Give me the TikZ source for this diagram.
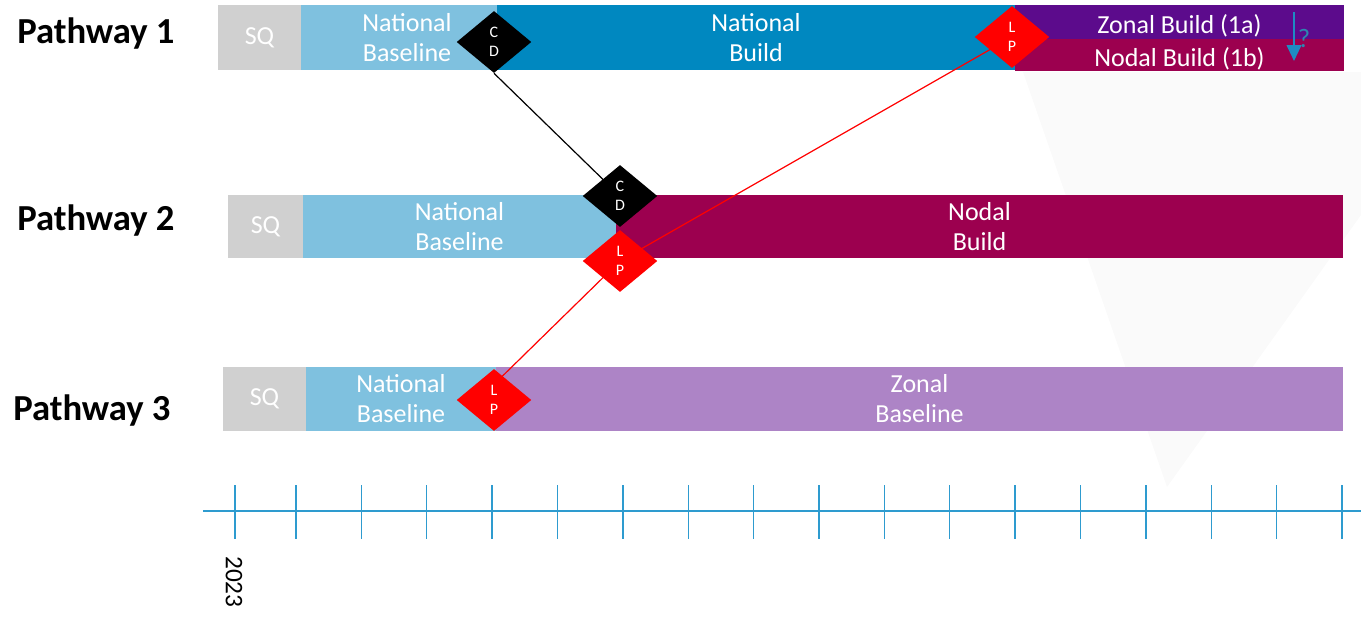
\documentclass[tikz,border=0pt]{standalone}
\usepackage{fontspec}
\setmainfont{Carlito}
\usetikzlibrary{shapes.geometric,arrows.meta,calc}

\definecolor{sqgrey}{HTML}{D0D0D0}
\definecolor{natbase}{HTML}{7FC1DF}
\definecolor{natbuild}{HTML}{0088C0}
\definecolor{zonbuild}{HTML}{5C0B8C}
\definecolor{nodalred}{HTML}{9C004F}
\definecolor{zonbase}{HTML}{AD84C6}
\definecolor{axisblue}{HTML}{2E9BCF}
\definecolor{qblue}{HTML}{1E8CC3}
\definecolor{qmark}{HTML}{2D86B0}
\definecolor{haze}{HTML}{FAFAFA}

\pgfdeclarelayer{backdrop}
\pgfdeclarelayer{bars}
\pgfdeclarelayer{links}
\pgfsetlayers{backdrop,bars,links,main}

% a filled bar between x1..x2 and y1..y2 (pixel units)
\newcommand\barnode[7]{%
  \node[barbox, fill=#6,
        minimum width={(#3-#2)*0.75pt}, minimum height={(#5-#4)*0.75pt}]
        (#1) at ({(#2+#3)/2},{(#4+#5)/2}) {#7};}
% lower a one-line label a little without changing its box
\newcommand\lowered[1]{\raisebox{-2.5pt}[\height][\depth]{#1}}

\tikzset{
  barbox/.style={rectangle, draw=none, inner sep=0pt, text=white,
                 align=center, font=\fontsize{19.5}{22.5}\selectfont},
  bartext/.style={inner sep=0pt, text=white, align=center,
                  font=\fontsize{19.5}{22.5}\selectfont},
  gate/.style={diamond, draw=none, inner sep=0pt, text=white, align=center,
               minimum width=56pt, minimum height=46.5pt,
               font=\fontsize{12}{14}\selectfont},
  cdgate/.style={gate, fill=black},
  lpgate/.style={gate, fill=red},
  pathlabel/.style={anchor=base west, inner sep=0pt,
                    font=\fontsize{27.5}{30}\selectfont\bfseries},
  link/.style={line width=0.9pt},
  tick/.style={axisblue, line width=1.1pt},
}

\begin{document}
\begin{tikzpicture}[x=0.75pt,y=-0.75pt]
\useasboundingbox (0,0) rectangle (1361,618);

% faint backdrop shape
\begin{pgfonlayer}{backdrop}
  \fill[haze] (1023,72) -- (1361,72) -- (1361,215) -- (1167,487) -- cycle;
\end{pgfonlayer}

% row labels
\node[pathlabel] (pw1) at (17,43) {Pathway 1};
\node[pathlabel] (pw2) at (17,230) {Pathway 2};
\node[pathlabel] (pw3) at (13,420) {Pathway 3};

\begin{pgfonlayer}{bars}
  % Pathway 1
  \barnode{p1sq}{218}{301}{5}{70}{sqgrey}{SQ}
  \barnode{p1nb}{301}{497}{5}{70}{natbase}{}
  \barnode{p1bld}{497}{1015}{5}{70}{natbuild}{National\\Build}
  \barnode{p1za}{1015}{1344}{5}{39}{zonbuild}{\lowered{Zonal Build (1a)}}
  \barnode{p1nd}{1015}{1344}{39}{71}{nodalred}{\lowered{Nodal Build (1b)}}
  \node[bartext] (p1nbt) at (407,37.5) {National\\Baseline};
  % Pathway 2
  \barnode{p2sq}{228}{303}{195}{258}{sqgrey}{SQ}
  \barnode{p2nb}{303}{616}{195}{258}{natbase}{National\\Baseline}
  \barnode{p2nd}{616}{1343}{195}{258}{nodalred}{Nodal\\Build}
  % Pathway 3
  \barnode{p3sq}{223}{306}{367}{431}{sqgrey}{SQ}
  \barnode{p3nb}{306}{496}{367}{431}{natbase}{National\\Baseline}
  \barnode{p3zb}{496}{1343}{367}{431}{zonbase}{Zonal\\Baseline}
\end{pgfonlayer}

% decision gates
\node[cdgate] (cd1) at (494,42)  {C\\D};
\node[lpgate] (lp1) at (1012,37) {L\\P};
\node[cdgate] (cd2) at (620,196) {C\\D};
\node[lpgate] (lp2) at (620,261) {L\\P};
\node[lpgate] (lp3) at (494,400) {L\\P};

\begin{pgfonlayer}{links}
  \draw[link, black] (cd1.south) -- (cd2.center);
  \draw[link, red] (lp2.center) -- (lp1.center);
  \draw[link, red] ($(lp3.center)!0.5!(lp3.north)$) -- (lp2.center);
\end{pgfonlayer}

% uncertain split between 1a and 1b
\coordinate (qtop) at (1294,12);
\coordinate (qbot) at (1294,61);
\draw[qblue, line width=1.5pt, -{Triangle[length=12pt,width=11pt]}] (qtop) -- (qbot);
\node[text=qmark, inner sep=0pt, font=\fontsize{20}{20}\selectfont] (qm) at (1304,38) {?};

% time axis
\coordinate (axl) at (203,511);
\coordinate (axr) at (1361,511);
\draw[axisblue, line width=1.1pt] (axl) -- (axr);
\draw[tick] (235,485) -- (235,539);
\foreach \k in {0,...,16}{
  \draw[tick] ({296+65.375*\k},485) -- ({296+65.375*\k},539);
}
\node[rotate=-90, anchor=west, inner sep=0pt,
      font=\fontsize{19}{19}\selectfont] (yr) at (234,556) {2023};
\end{tikzpicture}
\end{document}
